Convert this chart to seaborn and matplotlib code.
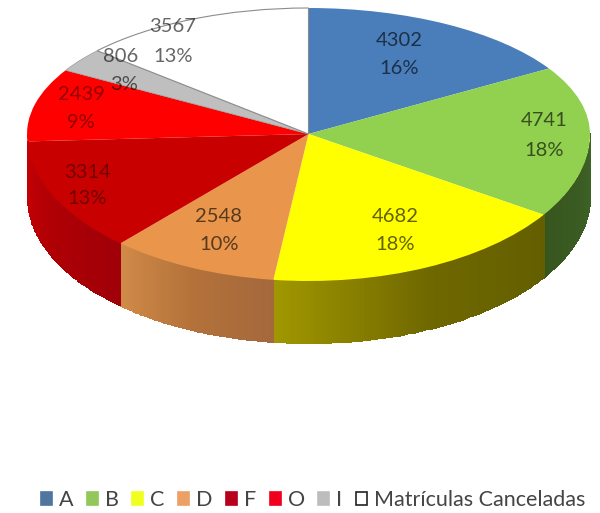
import numpy as np
import matplotlib
matplotlib.use("Agg")
import matplotlib.pyplot as plt
from matplotlib.patches import Patch
import seaborn as sns

# 3D looking pie: flat pie on a squashed y scale, side wall drawn under it

categories = ["A", "B", "C", "D", "F", "O", "I", "Matrículas Canceladas"]
values = [4302, 4741, 4682, 2548, 3314, 2439, 806, 3567]
percents = ["16%", "18%", "18%", "10%", "13%", "9%", "3%", "13%"]
colors = ["#4a7ebb", "#92d050", "#ffff00", "#e9964c", "#c80000", "#ff0000", "#bfbfbf", "#ffffff"]
legend_colors = ["#4f769f", "#92c75c", "#f0ff20", "#eda066", "#b8001c", "#f0001c", "#bdbdbd", "#ffffff"]

# wall shade at left end / middle / right end of each visible wedge
wall_colors = {
    1: ["#37561f", "#3a5c22", "#3f6526"],
    2: ["#a09600", "#6f6800", "#635e00"],
    3: ["#d08a48", "#b4723a", "#a4683c"],
    4: ["#c40005", "#ae0005", "#a00008"],
}

# pixel centres of the two line data labels
label_xy = [(399, 40, 69), (544, 120, 150), (395, 216, 245), (219, 216, 244),
            (88, 173, 199), (81, 95, 123), (121, 56, 84), (173, 27, 56)]
percent_x = [399, 544, 395, 219, 87, 81, 124, 173]
label_alpha = [0.62, 0.62, 0.62, 0.62, 0.42, 0.42, 0.6, 0.6]

W, H = 600, 513
CX, CY, RX, UP, DOWN = 308.5, 134, 281.5, 126, 147
DEPTH = 62 / DOWN

sns.set_theme(style="white")
plt.rcParams["font.family"] = ["Lato", "DejaVu Sans"]

fig = plt.figure(figsize=(W / 100, H / 100), dpi=100)
ax = fig.add_axes([0, 0, 1, 1])

wedges, _ = ax.pie(values, colors=colors, startangle=90, counterclock=False, radius=1,
                   wedgeprops=dict(linewidth=0, zorder=3))
wedges[-1].set_edgecolor("#8c8c8c")
wedges[-1].set_linewidth(0.8)
wedges[-2].set_edgecolor("#9a9a9a")
wedges[-2].set_linewidth(0.5)


def squash(y):
    y = np.asarray(y, dtype=float)
    return np.where(y >= 0, y * UP, y * DOWN)


def unsquash(v):
    v = np.asarray(v, dtype=float)
    return np.where(v >= 0, v / UP, v / DOWN)


ax.set_aspect("auto")
ax.set_yscale("function", functions=(squash, unsquash))
ax.set_xlim(-CX / RX, (W - CX) / RX)
ax.set_ylim(-(H - CY) / DOWN, CY / UP)
ax.axis("off")

# side wall, only where the rim faces the viewer
edges = np.concatenate([[0], np.cumsum(values)]) / sum(values) * 360
for i, shades in wall_colors.items():
    t0, t1 = max(edges[i], 90), min(edges[i + 1], 270)
    theta = np.radians(np.linspace(t0, t1, 81))
    x = np.sin(theta)
    y = np.cos(theta)
    X = np.vstack([x, x])
    Y = np.vstack([y + 0.004, y - DEPTH])
    rgb = np.array([matplotlib.colors.to_rgb(c) for c in shades])
    mid = (theta[:-1] + theta[1:]) / 2
    pos = (mid - mid[0]) / (mid[-1] - mid[0])
    # going clockwise means right to left on the front of the pie
    C = np.stack([np.interp(1 - pos, [0, 0.5, 1], rgb[:, k]) for k in range(3)], axis=-1)
    ax.pcolormesh(X, Y, C[np.newaxis, :, :], shading="flat", edgecolors="face",
                  linewidth=0.4, zorder=2)

# data labels
for (x, y1, y2), px, val, pct, a in zip(label_xy, percent_x, values, percents, label_alpha):
    fig.text(x / W, 1 - y1 / H, str(val), ha="center", va="center", fontsize=14.5,
             color=(0, 0, 0, a))
    fig.text(px / W, 1 - y2 / H, pct, ha="center", va="center", fontsize=14.5,
             color=(0, 0, 0, a))

handles = [Patch(facecolor=c, edgecolor="#222222" if c == "#ffffff" else c, linewidth=1.2)
           for c in legend_colors]
fig.legend(handles, categories, loc="center", bbox_to_anchor=(313 / W, 1 - 500 / H), ncol=8,
           frameon=False, fontsize=15.5, handlelength=0.52, handleheight=0.52,
           handletextpad=0.32, columnspacing=0.62, labelcolor="#444444", borderpad=0)

fig.savefig("out.png", dpi=100, facecolor="white")
